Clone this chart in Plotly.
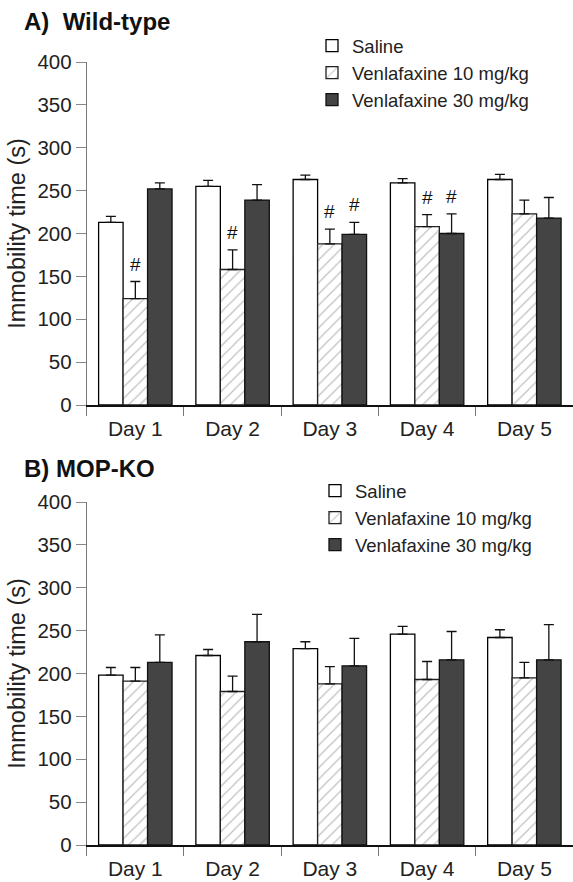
import plotly.graph_objects as go

days = ["Day 1", "Day 2", "Day 3", "Day 4", "Day 5"]
groups = ["Saline", "Venlafaxine 10 mg/kg", "Venlafaxine 30 mg/kg"]

# Panel A: Wild-type
wt_saline = [213, 255, 263, 259, 263]
wt_saline_err = [7, 7, 5, 5, 6]
wt_v10 = [124, 158, 188, 208, 223]
wt_v10_err = [20, 23, 17, 14, 16]
wt_v30 = [252, 239, 199, 200, 218]
wt_v30_err = [7, 18, 14, 23, 24]

# Panel B: MOP-KO
ko_saline = [198, 221, 229, 246, 242]
ko_saline_err = [9, 7, 8, 9, 9]
ko_v10 = [191, 179, 188, 193, 195]
ko_v10_err = [16, 18, 20, 21, 18]
ko_v30 = [213, 237, 209, 216, 216]
ko_v30_err = [32, 32, 32, 33, 41]

# significance marks (#) : (day, group index) for wild-type
wt_marks = [("Day 1", 1), ("Day 2", 1), ("Day 3", 1), ("Day 3", 2), ("Day 4", 1), ("Day 4", 2)]

yticks = [0, 50, 100, 150, 200, 250, 300, 350, 400]

W, H = 573, 882
FONT = "Liberation Sans, Arial, sans-serif"

styles = [
    dict(color="white", line=dict(color="black", width=1.3)),
    dict(color="white", line=dict(color="#222", width=1.3),
         pattern=dict(shape="/", fgcolor="#7f7f7f", bgcolor="white", size=8, solidity=0.15)),
    dict(color="#444444", line=dict(color="#111", width=1.3)),
]

fig = go.Figure()

def add_panel(vals, errs, xa, ya, leg):
    for i, (v, e) in enumerate(zip(vals, errs)):
        fig.add_trace(go.Bar(
            x=days, y=v, name=groups[i], marker=styles[i],
            error_y=dict(type="data", array=e, arrayminus=[0] * len(e), symmetric=False,
                         color="#111", thickness=1.3, width=5),
            xaxis=xa, yaxis=ya, legend=leg, legendgroup=leg + str(i),
        ))

add_panel([wt_saline, wt_v10, wt_v30], [wt_saline_err, wt_v10_err, wt_v30_err], "x", "y", "legend")
add_panel([ko_saline, ko_v10, ko_v30], [ko_saline_err, ko_v10_err, ko_v30_err], "x2", "y2", "legend2")

# '#' marks above error bars
wt_vals = [wt_saline, wt_v10, wt_v30]
wt_errs = [wt_saline_err, wt_v10_err, wt_v30_err]
bar_w = 24.4
annotations = []
for day, g in wt_marks:
    k = days.index(day)
    top = wt_vals[g][k] + wt_errs[g][k]
    annotations.append(dict(x=day, y=top, xref="x", yref="y", text="#", showarrow=False,
                            xshift=(g - 1) * bar_w, yshift=5, yanchor="bottom",
                            font=dict(size=19, color="#111", family=FONT)))

annotations.append(dict(x=22 / W, y=1 - 22 / H, xref="paper", yref="paper", xanchor="left",
                        yanchor="middle", text="<b>A)  Wild-type</b>", showarrow=False,
                        font=dict(size=24, color="#111", family=FONT)))
annotations.append(dict(x=22 / W, y=1 - 468 / H, xref="paper", yref="paper", xanchor="left",
                        yanchor="middle", text="<b>B) MOP-KO</b>", showarrow=False,
                        font=dict(size=24, color="#111", family=FONT)))

xdom = [86.7 / W, 1.0]
xaxis_common = dict(
    type="category", range=[-0.5, 4.5], showline=True, linecolor="#111", linewidth=2,
    ticks="outside", tickson="boundaries", ticklen=9, tickcolor="#777", tickwidth=1,
    tickfont=dict(size=21, color="#222", family=FONT), showgrid=False, zeroline=False,
    ticklabelstandoff=4, automargin=False,
)
yaxis_common = dict(
    range=[0, 400], tickvals=yticks, showline=True, linecolor="#777", linewidth=1,
    ticks="outside", ticklen=10, tickcolor="#888", tickwidth=1,
    tickfont=dict(size=20.5, color="#222", family=FONT), showgrid=False, zeroline=False,
    title=dict(text="Immobility time (s)", font=dict(size=23.5, color="#222", family=FONT), standoff=5),
    automargin=False,
)

fig.update_layout(
    width=W, height=H, autosize=False,
    margin=dict(l=0, r=0, t=0, b=0, autoexpand=False),
    paper_bgcolor="white", plot_bgcolor="white",
    barmode="group", bargap=0.245, bargroupgap=0,
    font=dict(family=FONT, color="#222"),
    xaxis=dict(domain=xdom, anchor="y", **xaxis_common),
    yaxis=dict(domain=[1 - 405 / H, 1 - 62 / H], anchor="x", **yaxis_common),
    xaxis2=dict(domain=xdom, anchor="y2", **xaxis_common),
    yaxis2=dict(domain=[1 - 845 / H, 1 - 502 / H], anchor="x2", **yaxis_common),
    legend=dict(x=312 / W, y=1 - 27 / H, xanchor="left", yanchor="top",
                font=dict(size=18.5, color="#222", family=FONT), bgcolor="rgba(0,0,0,0)",
                tracegroupgap=0),
    legend2=dict(x=315 / W, y=1 - 472 / H, xanchor="left", yanchor="top",
                 font=dict(size=18.5, color="#222", family=FONT), bgcolor="rgba(0,0,0,0)",
                 tracegroupgap=0),
    annotations=annotations,
    showlegend=True,
)

fig.write_html(
    "out.html",
    config={"displayModeBar": False},
    post_script="document.body.style.margin='0px';document.body.style.overflow='hidden';",
)
